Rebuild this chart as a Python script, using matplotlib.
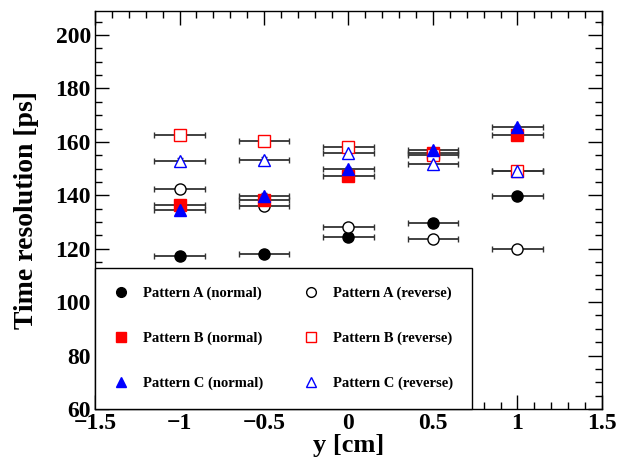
import numpy as np
import matplotlib
matplotlib.use("Agg")
import matplotlib.pyplot as plt
from matplotlib.lines import Line2D
from matplotlib.ticker import MultipleLocator, FuncFormatter

plt.rcParams['font.family'] = ['Liberation Serif', 'DejaVu Serif']
plt.rcParams['font.weight'] = 'bold'

# positions along y [cm]
pos = [-1.0, -0.5, 0.0, 0.5, 1.0]
pos_err = 0.15

# time resolution [ps]
a_normal = [117.4, 118.0, 124.2, 129.7, 139.7]
a_reverse = [142.2, 136.1, 128.3, 123.6, 119.9]
b_normal = [136.5, 138.4, 147.3, 156.0, 162.6]
b_reverse = [162.7, 160.5, 158.0, 155.0, 149.1]
c_normal = [134.4, 139.7, 149.7, 156.8, 165.4]
c_reverse = [153.0, 153.3, 155.8, 151.8, 149.1]
res_err = 1.0

series = [
    ('Pattern A (normal)', a_normal, 'o', 'black', True),
    ('Pattern A (reverse)', a_reverse, 'o', 'black', False),
    ('Pattern B (normal)', b_normal, 's', 'red', True),
    ('Pattern B (reverse)', b_reverse, 's', 'red', False),
    ('Pattern C (normal)', c_normal, '^', 'blue', True),
    ('Pattern C (reverse)', c_reverse, '^', 'blue', False),
]

fig = plt.figure(figsize=(6.19, 4.61), dpi=100)
ax = fig.add_axes([0.1535, 0.113, 0.819, 0.863])

handles = []
for label, vals, mk, col, filled in series:
    face = col if filled else 'white'
    ax.errorbar(pos, vals, xerr=pos_err, yerr=res_err, fmt='none',
                ecolor='#333333', elinewidth=1.3, capsize=2.5, capthick=1.0, zorder=2)
    ax.plot(pos, vals, linestyle='none', marker=mk, markersize=8,
            markerfacecolor=face, markeredgecolor=col, markeredgewidth=1.0, zorder=3)
    handles.append(Line2D([], [], linestyle='none', marker=mk, markersize=7,
                          markerfacecolor=face, markeredgecolor=col,
                          markeredgewidth=1.0, label=label))

ax.set_xlim(-1.5, 1.5)
ax.set_ylim(60, 209)
ax.xaxis.set_major_locator(MultipleLocator(0.5))
ax.xaxis.set_minor_locator(MultipleLocator(0.1))
ax.xaxis.set_major_formatter(FuncFormatter(lambda v, p: ('%g' % v).replace('-', '\u2212')))
ax.yaxis.set_major_locator(MultipleLocator(20))
ax.yaxis.set_minor_locator(MultipleLocator(5))
ax.tick_params(which='both', direction='in', top=True, right=True, width=1.0)
ax.tick_params(which='major', length=10, labelsize=17, pad=3)
ax.tick_params(which='minor', length=5)
for sp in ax.spines.values():
    sp.set_linewidth(1.0)

ax.set_xlabel('y [cm]', fontsize=19, fontweight='bold', labelpad=0)
ax.set_ylabel('Time resolution [ps]', fontsize=20, fontweight='bold', labelpad=12)

# order legend row by row: normal left, reverse right
leg = ax.legend(handles=[handles[0], handles[2], handles[4],
                         handles[1], handles[3], handles[5]],
                ncol=2, loc='lower left', bbox_to_anchor=(0, 0, 0.744, 0.35),
                mode='expand', borderaxespad=0, frameon=True, fancybox=False,
                edgecolor='black', framealpha=1, prop={'size': 10.5, 'weight': 'bold'},
                labelspacing=2.15, handletextpad=1.0, columnspacing=1.0,
                borderpad=1.3, handlelength=1.0)
leg.get_frame().set_linewidth(1.0)
leg.set_zorder(10)

fig.savefig('out.png', dpi=100)
